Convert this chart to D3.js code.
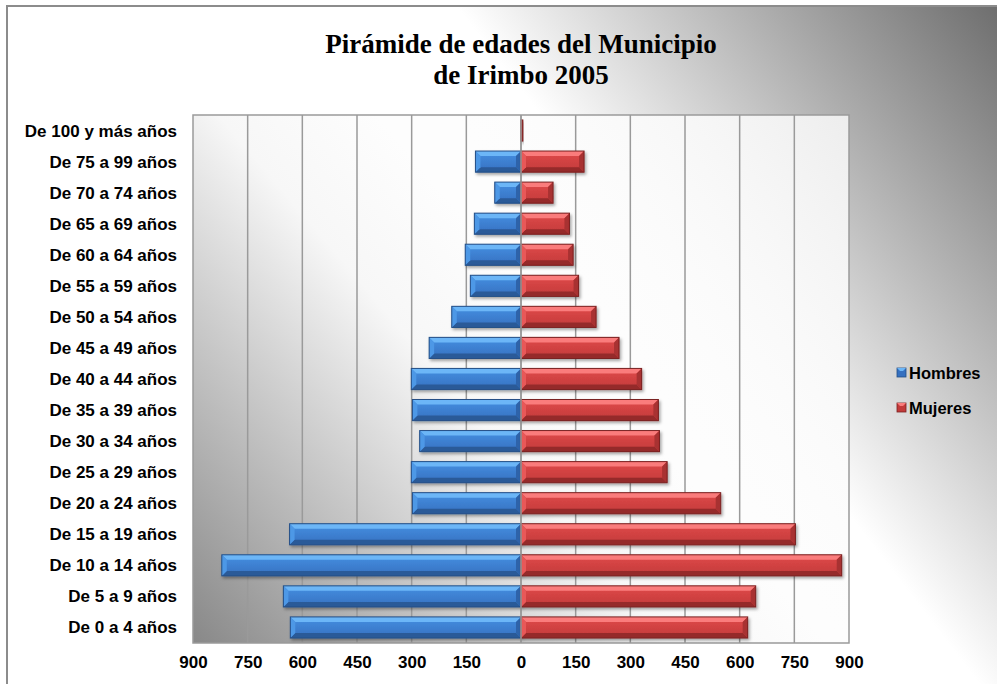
<!DOCTYPE html>
<html><head><meta charset="utf-8">
<script src="https://cdn.jsdelivr.net/npm/d3@7"></script>
<style>html,body{margin:0;padding:0;background:#fff;overflow:hidden}</style>
</head><body>
<svg id="chart" width="997" height="684"></svg>
<script>
const categories = ["De 100 y más años","De 75 a 99 años","De 70 a 74 años","De 65 a 69 años","De 60 a 64 años","De 55 a 59 años","De 50 a 54 años","De 45 a 49 años","De 40 a 44 años","De 35 a 39 años","De 30 a 34 años","De 25 a 29 años","De 20 a 24 años","De 15 a 19 años","De 10 a 14 años","De 5 a 9 años","De 0 a 4 años"];
const hombres = [0,125,72,128,153,139,190,252,301,298,278,301,298,635,821,652,633];
const mujeres = [5,173,88,133,143,158,206,269,331,377,380,401,548,753,880,644,622];
const tickValues = [-900,-750,-600,-450,-300,-150,0,150,300,450,600,750,900];
const seriesNames = ["Hombres","Mujeres"];
const titleLines = ["Pirámide de edades del Municipio","de Irimbo 2005"];

const svg = d3.select("#chart");
const W = 997, H = 684;
const plot = {left:193, right:849, top:115, bottom:643};

const defs = svg.append("defs");
const og = defs.append("linearGradient").attr("id","outerGrad").attr("gradientUnits","userSpaceOnUse")
  .attr("x1",660).attr("y1",270).attr("x2",997).attr("y2",10);
og.append("stop").attr("offset",0).attr("stop-color","#ffffff");
og.append("stop").attr("offset",1).attr("stop-color","#6f6f6f");
const pg = defs.append("linearGradient").attr("id","plotGrad").attr("gradientUnits","userSpaceOnUse")
  .attr("x1",plot.left).attr("y1",plot.bottom).attr("x2",560).attr("y2",330);
pg.append("stop").attr("offset",0).attr("stop-color","#888888");
pg.append("stop").attr("offset",0.75).attr("stop-color","#f7f7f7");
pg.append("stop").attr("offset",1).attr("stop-color","#fdfdfd");
const pg2 = defs.append("linearGradient").attr("id","plotGrad2").attr("gradientUnits","userSpaceOnUse")
  .attr("x1",560).attr("y1",330).attr("x2",plot.right).attr("y2",plot.top);
pg2.append("stop").attr("offset",0).attr("stop-color","#ffffff").attr("stop-opacity",0);
pg2.append("stop").attr("offset",1).attr("stop-color","#ededed").attr("stop-opacity",1);

const f = defs.append("filter").attr("id","shadow").attr("x","-10%").attr("y","-30%").attr("width","130%").attr("height","180%");
f.append("feDropShadow").attr("dx",1.5).attr("dy",2).attr("stdDeviation",1.5).attr("flood-color","#000").attr("flood-opacity",0.35);

const palette = {
  Hombres:{faceTop:"#4690e2", faceBot:"#3570c0", top:"#6cb6f7", bottom:"#2b5a98", side1:"#4e98e6", side2:"#2e64aa", stroke:"#254f86"},
  Mujeres:{faceTop:"#e04a4a", faceBot:"#c23a3a", top:"#fa7c7c", bottom:"#952b2b", side1:"#e85858", side2:"#a83030", stroke:"#7a2222"}
};
Object.entries(palette).forEach(([k,p])=>{
  const g = defs.append("linearGradient").attr("id","face"+k).attr("x1",0).attr("y1",0).attr("x2",0).attr("y2",1);
  g.append("stop").attr("offset",0).attr("stop-color",p.faceTop);
  g.append("stop").attr("offset",1).attr("stop-color",p.faceBot);
});

svg.append("rect").attr("x",0).attr("y",0).attr("width",W).attr("height",H).attr("fill","#fff");
svg.append("rect").attr("x",7).attr("y",6).attr("width",1100).attr("height",800)
  .attr("fill","url(#outerGrad)").attr("stroke","#8c8c8c").attr("stroke-width",2);

const title = svg.append("text").attr("text-anchor","middle")
  .attr("font-family","'Liberation Serif','Times New Roman',serif").attr("font-weight","bold")
  .attr("font-size",27).attr("fill","#000");
titleLines.forEach((t,i)=> title.append("tspan").attr("x",521).attr("y",53+i*31).text(t));

const x = d3.scaleLinear().domain([-900,900]).range([plot.left,plot.right]);
const y = d3.scaleBand().domain(categories).range([plot.top,plot.bottom]).paddingInner(0.32).paddingOuter(0.16);

svg.append("rect").attr("x",plot.left).attr("y",plot.top).attr("width",plot.right-plot.left).attr("height",plot.bottom-plot.top).attr("fill","url(#plotGrad)");
svg.append("rect").attr("x",plot.left).attr("y",plot.top).attr("width",plot.right-plot.left).attr("height",plot.bottom-plot.top).attr("fill","url(#plotGrad2)");

svg.append("g").selectAll("line").data(tickValues.filter(v=>v!==-900&&v!==900)).join("line")
  .attr("x1",d=>x(d)).attr("x2",d=>x(d)).attr("y1",plot.top).attr("y2",plot.bottom)
  .attr("stroke","#9a9a9a").attr("stroke-width",1.5);
svg.append("rect").attr("x",plot.left).attr("y",plot.top).attr("width",plot.right-plot.left).attr("height",plot.bottom-plot.top)
  .attr("fill","none").attr("stroke","#9a9a9a").attr("stroke-width",1.5);

function bevelBar(g, x0, x1, yy, h, p, name){
  const w = x1-x0; if(w<=0) return;
  const b = Math.min(5, w/2, h/2);
  const bar = g.append("g").attr("filter","url(#shadow)");
  bar.append("rect").attr("x",x0).attr("y",yy).attr("width",w).attr("height",h).attr("fill","url(#face"+name+")");
  const poly = (pts,fill)=>bar.append("polygon").attr("points",pts.map(q=>q.join(",")).join(" ")).attr("fill",fill);
  poly([[x0,yy],[x1,yy],[x1-b,yy+b],[x0+b,yy+b]], p.top);
  poly([[x0,yy+h],[x1,yy+h],[x1-b,yy+h-b],[x0+b,yy+h-b]], p.bottom);
  poly([[x0,yy],[x0+b,yy+b],[x0+b,yy+h-b],[x0,yy+h]], p.side1);
  poly([[x1,yy],[x1-b,yy+b],[x1-b,yy+h-b],[x1,yy+h]], p.side2);
  bar.append("rect").attr("x",x0).attr("y",yy).attr("width",w).attr("height",h).attr("fill","none").attr("stroke",p.stroke).attr("stroke-width",1);
}
const barsG = svg.append("g");
categories.forEach((c,i)=>{
  bevelBar(barsG, x(-hombres[i]), x(0), y(c), y.bandwidth(), palette.Hombres, "Hombres");
  bevelBar(barsG, x(0), x(mujeres[i]), y(c), y.bandwidth(), palette.Mujeres, "Mujeres");
});
svg.append("line").attr("x1",x(0)).attr("x2",x(0)).attr("y1",plot.top).attr("y2",plot.bottom).attr("stroke","#9a9a9a").attr("stroke-width",1.5);

svg.append("g").selectAll("text").data(categories).join("text")
  .attr("x",177).attr("y",d=>y(d)+y.bandwidth()/2+6)
  .attr("text-anchor","end").attr("font-family","'Liberation Sans',Arial,sans-serif").attr("font-weight","bold")
  .attr("font-size",17).attr("fill","#000").text(d=>d);

const xAxis = d3.axisBottom(x).tickValues(tickValues).tickSize(0).tickPadding(0).tickFormat(d=>String(Math.abs(d)));
const ax = svg.append("g").attr("transform",`translate(0,${plot.bottom+13})`).call(xAxis);
ax.select(".domain").remove();
ax.selectAll("text").attr("font-family","'Liberation Sans',Arial,sans-serif").attr("font-weight","bold").attr("font-size",17).attr("fill","#000").attr("dy","0.71em");

const leg = svg.append("g");
seriesNames.forEach((s,i)=>{
  const p = palette[s];
  const yy = 368 + i*35;
  const gr = leg.append("g");
  gr.append("rect").attr("x",897).attr("y",yy).attr("width",9).attr("height",9).attr("fill",p.faceBot).attr("stroke",p.stroke).attr("stroke-width",0.8);
  gr.append("polygon").attr("points",`897,${yy} 906,${yy} 903,${yy+3} 900,${yy+3}`).attr("fill",p.top);
  gr.append("text").attr("x",909).attr("y",yy+10.5).attr("font-family","'Liberation Sans',Arial,sans-serif").attr("font-weight","bold").attr("font-size",16.5).attr("fill","#000").text(s);
});
</script>
</body></html>
